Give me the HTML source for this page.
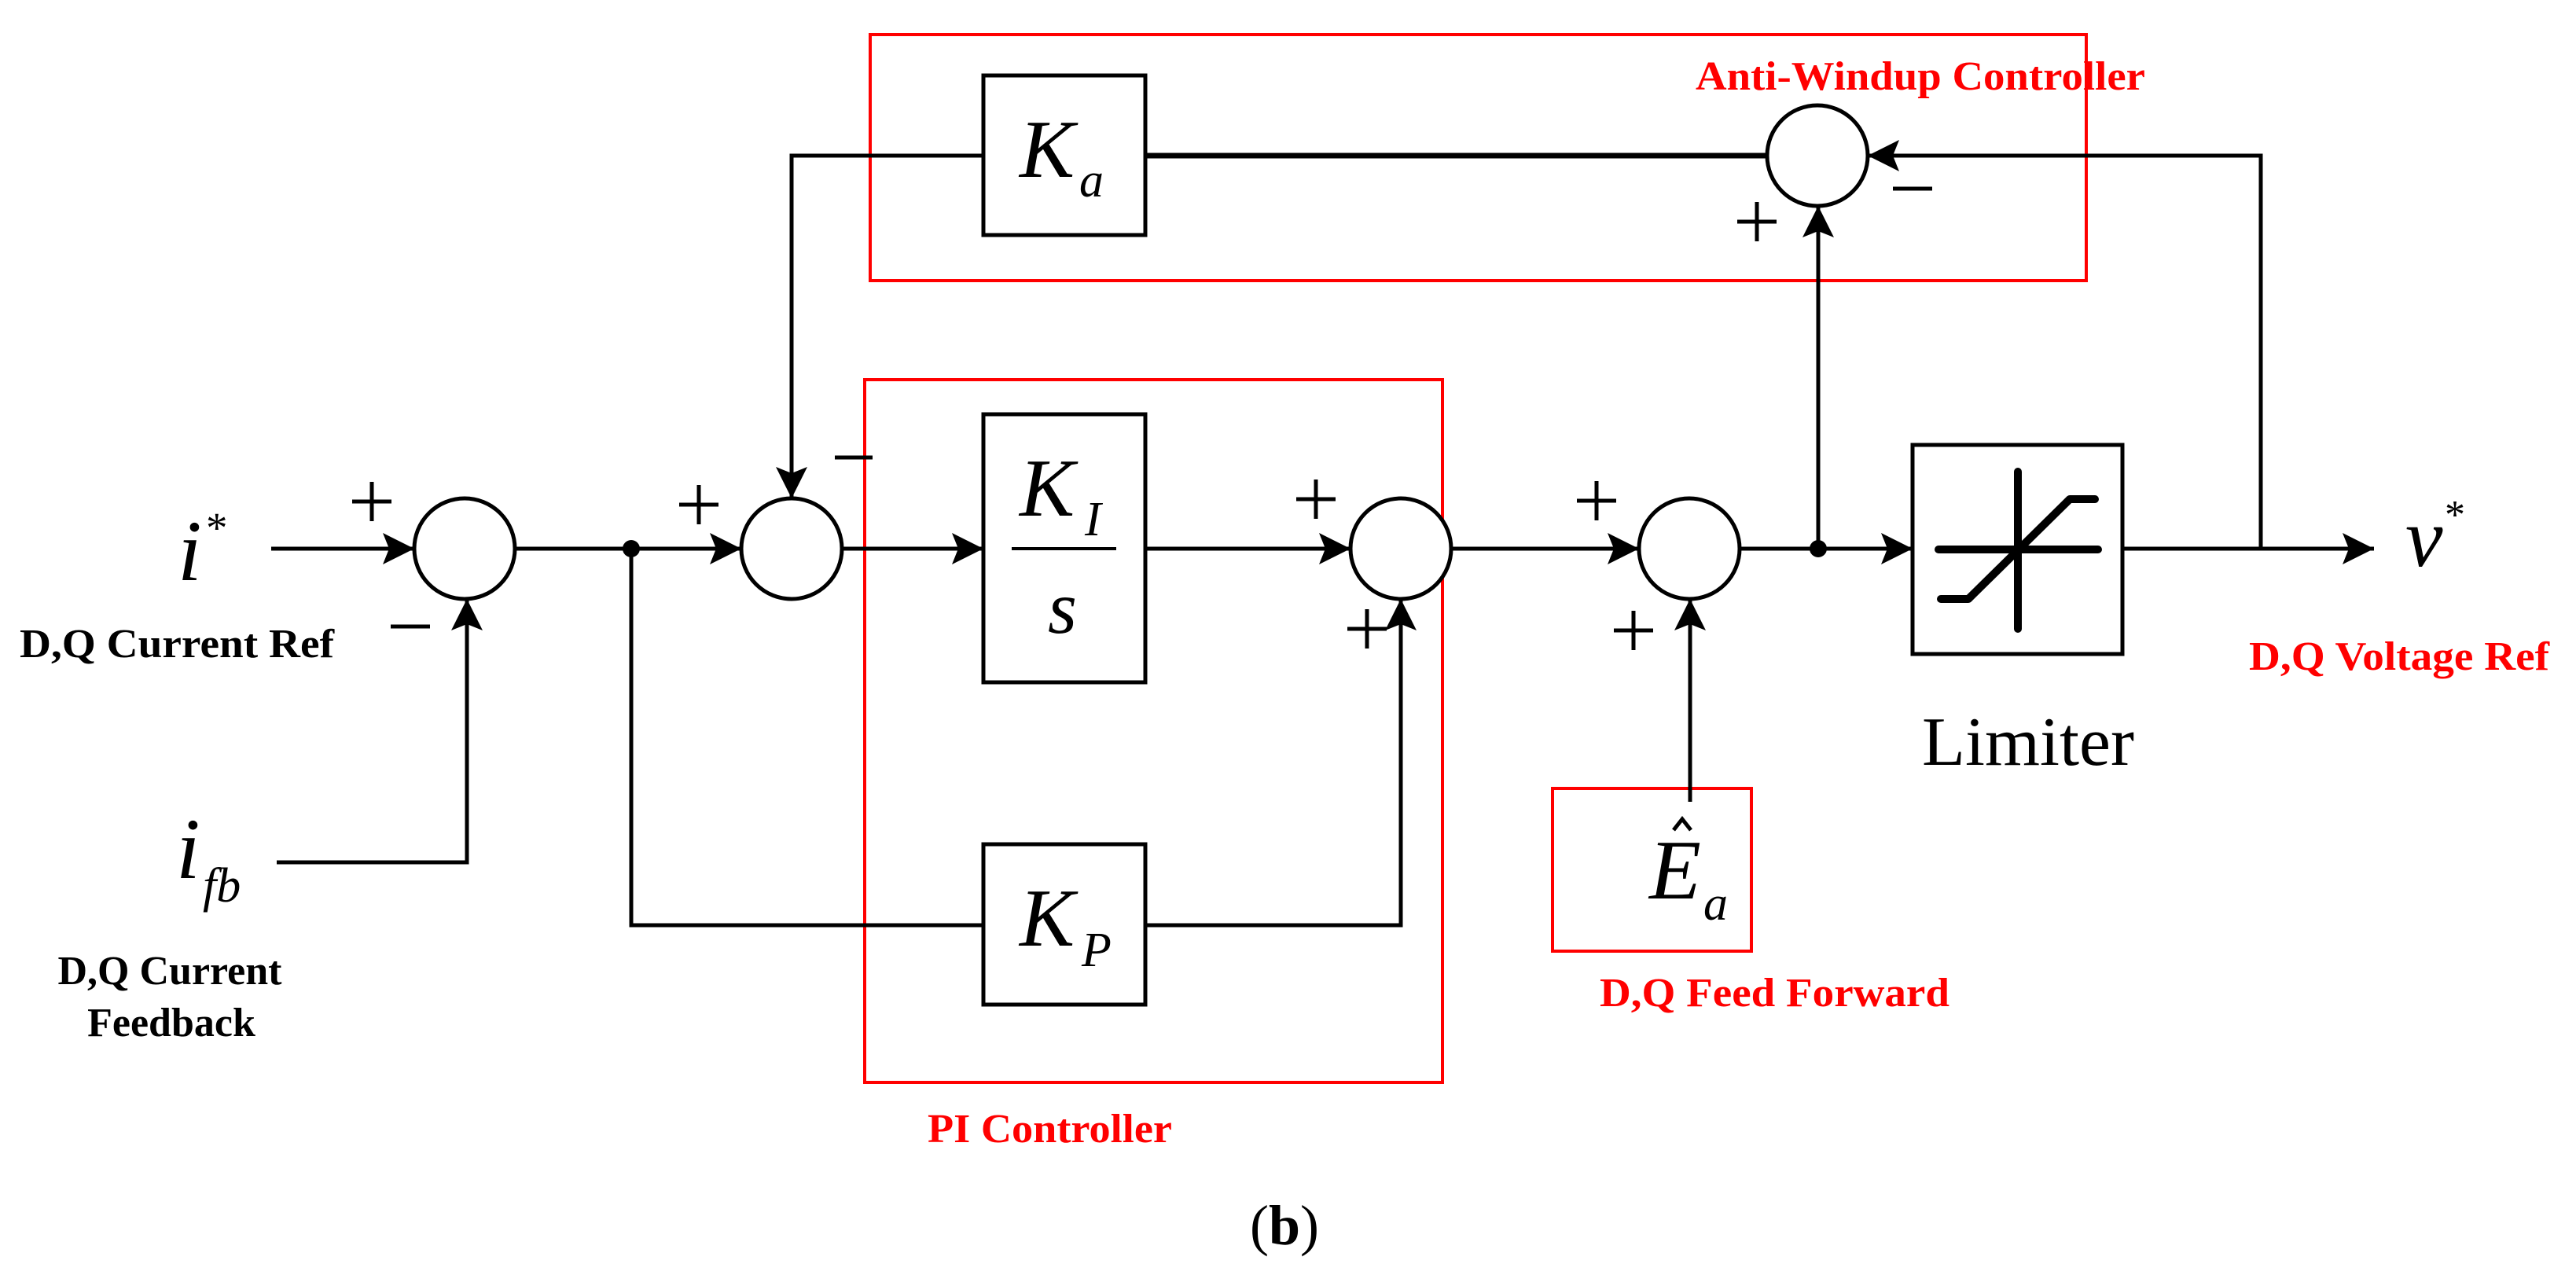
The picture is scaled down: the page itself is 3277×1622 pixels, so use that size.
<!DOCTYPE html>
<html><head><meta charset="utf-8"><style>
html,body{margin:0;padding:0;background:#fff;}
svg{display:block;}
.lbl{font-family:"Liberation Serif",serif;font-weight:bold;font-size:52px;}
.m{font-family:"Liberation Serif",serif;font-style:italic;}
</style></head><body>
<svg width="3277" height="1622" viewBox="0 0 3277 1622" xmlns="http://www.w3.org/2000/svg">
<defs>
<marker id="ar" markerWidth="42" markerHeight="42" refX="40" refY="20" orient="auto" markerUnits="userSpaceOnUse">
<path d="M0,0 L40,20 L0,40 L8,20 Z" fill="#000"/>
</marker>
</defs>
<g fill="none" stroke="#ff0000" stroke-width="4">
<rect x="1107" y="44" width="1547" height="313"/>
<rect x="1100" y="483" width="735" height="894"/>
<rect x="1975" y="1003" width="253" height="207"/>
</g>
<g fill="#fff" stroke="#000" stroke-width="5">
<rect x="1251" y="96" width="206" height="203"/>
<rect x="1251" y="527" width="206" height="341"/>
<rect x="1251" y="1074" width="206" height="204"/>
<rect x="2433" y="566" width="267" height="266"/>
<circle cx="591" cy="698" r="64"/>
<circle cx="1007" cy="698" r="64"/>
<circle cx="1782" cy="698" r="64"/>
<circle cx="2149" cy="698" r="64"/>
<circle cx="2312" cy="198" r="64"/>
</g>
<g fill="none" stroke="#000" stroke-width="5">
<line x1="345" y1="698" x2="527" y2="698" marker-end="url(#ar)"/>
<polyline points="352,1097 594,1097 594,762" marker-end="url(#ar)"/>
<line x1="655" y1="698" x2="943" y2="698" marker-end="url(#ar)"/>
<polyline points="803,698 803,1177 1251,1177"/>
<polyline points="1251,198 1007,198 1007,634" marker-end="url(#ar)"/>
<line x1="1071" y1="698" x2="1251" y2="698" marker-end="url(#ar)"/>
<line x1="1457" y1="698" x2="1718" y2="698" marker-end="url(#ar)"/>
<polyline points="1457,1177 1782,1177 1782,762" marker-end="url(#ar)"/>
<line x1="1846" y1="698" x2="2085" y2="698" marker-end="url(#ar)"/>
<line x1="2150" y1="1020" x2="2150" y2="762" marker-end="url(#ar)"/>
<line x1="2213" y1="698" x2="2433" y2="698" marker-end="url(#ar)"/>
<line x1="2313" y1="698" x2="2313" y2="262" marker-end="url(#ar)"/>
<line x1="2700" y1="698" x2="3020" y2="698" marker-end="url(#ar)"/>
<polyline points="2876,698 2876,198 2376,198" marker-end="url(#ar)"/>
<line x1="1457" y1="198" x2="2248" y2="198" stroke-width="7"/>
<line x1="1287" y1="698" x2="1420" y2="698" stroke-width="4"/>
</g>
<circle cx="803" cy="698" r="11" fill="#000"/>
<circle cx="2313" cy="698" r="11" fill="#000"/>
<g fill="none" stroke="#000" stroke-width="10" stroke-linecap="round" stroke-linejoin="round">
<line x1="2567" y1="600" x2="2567" y2="800"/>
<line x1="2466" y1="699" x2="2669" y2="699"/>
<polyline points="2469,762 2504,762 2633,635 2665,635"/>
</g>
<g stroke="#000" stroke-width="5">
<path d="M448,638 h50 M473,613 v50"/><path d="M497,797 h50"/>
<path d="M864,642 h50 M889,617 v50"/><path d="M1062,582 h48"/>
<path d="M1649,635 h50 M1674,610 v50"/><path d="M1714,800 h50 M1739,775 v50"/>
<path d="M2006,637 h50 M2031,612 v50"/><path d="M2053,802 h50 M2078,777 v50"/>
<path d="M2210,282 h50 M2235,257 v50"/><path d="M2408,240 h50"/>
</g>
<text class="m" x="1297" y="225" font-size="105">K</text>
<text class="m" x="1373" y="250" font-size="62">a</text>
<text class="m" x="1297" y="656" font-size="105">K</text>
<text class="m" x="1380" y="681" font-size="62">I</text>
<text class="m" x="1333" y="805" font-size="95">s</text>
<text class="m" x="1297" y="1203" font-size="105">K</text>
<text class="m" x="1376" y="1229" font-size="62">P</text>
<text class="m" x="226" y="738" font-size="110">i</text>
<text x="262" y="690" font-size="55" font-family="Liberation Serif, serif">*</text>
<text class="m" x="224" y="1117" font-size="110">i</text>
<text class="m" x="258" y="1147" font-size="62">fb</text>
<text class="m" x="2098" y="1143" font-size="108">E</text>
<polyline points="2129,1056 2140,1042 2151,1056" fill="none" stroke="#000" stroke-width="5"/>
<text class="m" x="2167" y="1170" font-size="62">a</text>
<text class="m" x="3060" y="720" font-size="107">v</text>
<text x="3110" y="672" font-size="52" font-family="Liberation Serif, serif">*</text>
<text class="lbl" x="25" y="836" textLength="400" lengthAdjust="spacingAndGlyphs">D,Q Current Ref</text>
<text class="lbl" x="216" y="1252" text-anchor="middle">D,Q Current</text>
<text class="lbl" x="218" y="1318" text-anchor="middle">Feedback</text>
<text class="lbl" x="1180" y="1453" fill="#ff0000" textLength="311" lengthAdjust="spacingAndGlyphs">PI Controller</text>
<text class="lbl" x="2157" y="114" fill="#ff0000" textLength="572" lengthAdjust="spacingAndGlyphs">Anti-Windup Controller</text>
<text class="lbl" x="2861" y="852" fill="#ff0000" textLength="382" lengthAdjust="spacingAndGlyphs">D,Q Voltage Ref</text>
<text class="lbl" x="2035" y="1280" fill="#ff0000" textLength="445" lengthAdjust="spacingAndGlyphs">D,Q Feed Forward</text>
<text x="2445" y="973" font-size="88" font-family="Liberation Serif, serif" textLength="270" lengthAdjust="spacingAndGlyphs">Limiter</text>
<text x="1590" y="1583" font-size="72" font-family="Liberation Serif, serif">(<tspan font-weight="bold">b</tspan>)</text>
</svg>
</body></html>
